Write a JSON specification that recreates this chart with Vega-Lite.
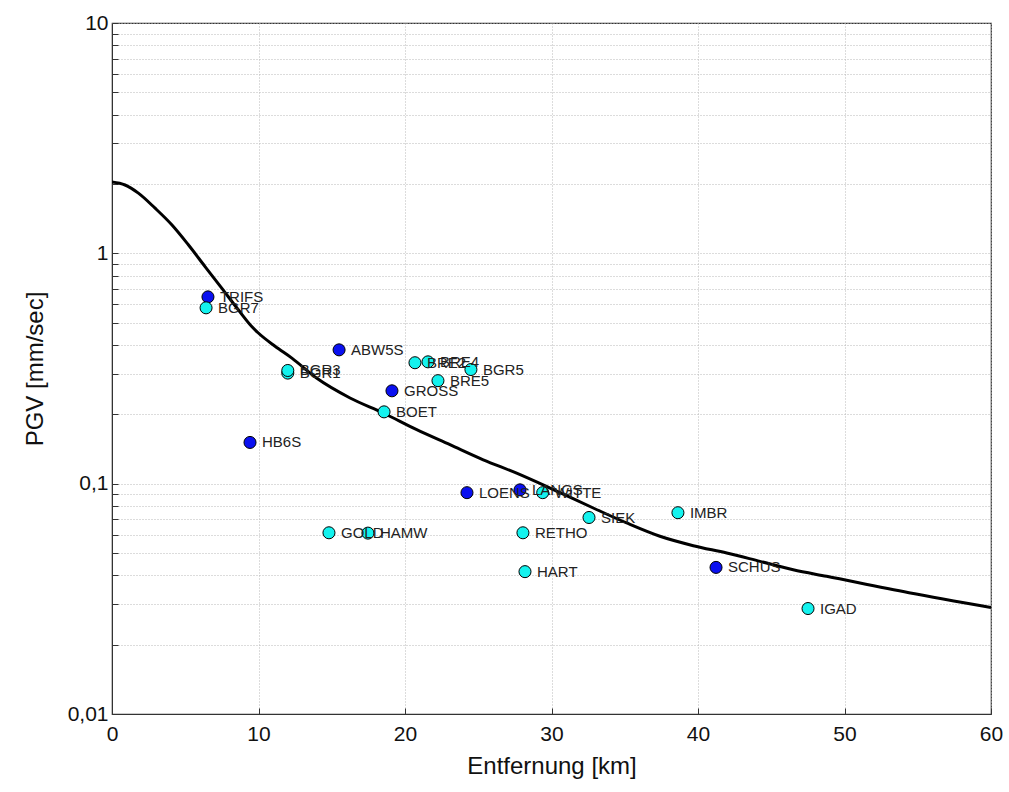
{
  "$schema": "https://vega.github.io/schema/vega-lite/v6.json",
  "width": 879,
  "height": 691,
  "autosize": {"type": "none"},
  "padding": {"left": 112, "top": 23, "right": 18, "bottom": 78},
  "background": "white",
  "config": {
    "font": "Liberation Sans",
    "view": {"stroke": "#333333", "strokeWidth": 1.2},
    "axis": {
      "domainColor": "#333333",
      "tickColor": "#333333",
      "gridColor": "#b8b8b8",
      "gridDash": [1, 2],
      "gridWidth": 1,
      "labelFont": "Liberation Sans",
      "titleFont": "Liberation Sans",
      "labelColor": "#111111",
      "titleColor": "#111111",
      "labelFontSize": 21,
      "titleFontSize": 24,
      "titleFontWeight": "normal"
    }
  },
  "datasets": {
    "stations": [
      {"name": "TRIFS", "dist": 6.55, "pgv": 0.647, "typ": "a"},
      {"name": "BGR7", "dist": 6.42, "pgv": 0.58, "typ": "b"},
      {"name": "BGR1", "dist": 12.0, "pgv": 0.302, "typ": "b"},
      {"name": "BGR3", "dist": 12.0, "pgv": 0.31, "typ": "b"},
      {"name": "ABW5S", "dist": 15.5, "pgv": 0.381, "typ": "a"},
      {"name": "BRE2", "dist": 20.68, "pgv": 0.335, "typ": "b"},
      {"name": "BRE4", "dist": 21.57, "pgv": 0.338, "typ": "b"},
      {"name": "BGR5", "dist": 24.5, "pgv": 0.313, "typ": "b"},
      {"name": "BRE5", "dist": 22.25, "pgv": 0.28, "typ": "b"},
      {"name": "GROSS", "dist": 19.11, "pgv": 0.253, "typ": "a"},
      {"name": "BOET", "dist": 18.57, "pgv": 0.205, "typ": "b"},
      {"name": "HB6S", "dist": 9.42, "pgv": 0.151, "typ": "a"},
      {"name": "LOENS", "dist": 24.23, "pgv": 0.0914, "typ": "a"},
      {"name": "LANGS", "dist": 27.85, "pgv": 0.094, "typ": "a"},
      {"name": "WITTE", "dist": 29.4, "pgv": 0.0914, "typ": "b"},
      {"name": "SIEK", "dist": 32.56, "pgv": 0.0713, "typ": "b"},
      {"name": "IMBR", "dist": 38.63, "pgv": 0.0748, "typ": "b"},
      {"name": "RETHO", "dist": 28.05, "pgv": 0.0612, "typ": "b"},
      {"name": "GOLD", "dist": 14.81, "pgv": 0.0612, "typ": "b"},
      {"name": "HAMW", "dist": 17.47, "pgv": 0.061, "typ": "b"},
      {"name": "HART", "dist": 28.19, "pgv": 0.0415, "typ": "b"},
      {"name": "SCHUS", "dist": 41.23, "pgv": 0.0433, "typ": "a"},
      {"name": "IGAD", "dist": 47.51, "pgv": 0.0287, "typ": "b"}
    ],
    "curve": [
      {"dist": 0, "pgv": 2.04},
      {"dist": 0.89, "pgv": 1.98},
      {"dist": 1.8, "pgv": 1.825},
      {"dist": 2.94, "pgv": 1.57},
      {"dist": 4.08, "pgv": 1.33},
      {"dist": 5.21, "pgv": 1.089},
      {"dist": 6.35, "pgv": 0.876},
      {"dist": 7.49, "pgv": 0.706},
      {"dist": 8.62, "pgv": 0.569},
      {"dist": 9.54, "pgv": 0.481},
      {"dist": 9.97, "pgv": 0.452},
      {"dist": 11.13, "pgv": 0.395},
      {"dist": 12.3, "pgv": 0.35},
      {"dist": 13.96, "pgv": 0.2874},
      {"dist": 16.25, "pgv": 0.2355},
      {"dist": 18.52, "pgv": 0.2027},
      {"dist": 20.8, "pgv": 0.1715},
      {"dist": 23.07, "pgv": 0.1476},
      {"dist": 25.34, "pgv": 0.127},
      {"dist": 27.62, "pgv": 0.111},
      {"dist": 29.9, "pgv": 0.0957},
      {"dist": 32.85, "pgv": 0.0784},
      {"dist": 35.13, "pgv": 0.0675},
      {"dist": 37.4, "pgv": 0.0591},
      {"dist": 39.68, "pgv": 0.0538},
      {"dist": 41.96, "pgv": 0.05},
      {"dist": 44.23, "pgv": 0.046},
      {"dist": 46.5, "pgv": 0.0423},
      {"dist": 48.78, "pgv": 0.0396},
      {"dist": 54.4, "pgv": 0.0336},
      {"dist": 60, "pgv": 0.029}
    ]
  },
  "layer": [
    {
      "data": {"name": "curve"},
      "mark": {"type": "line", "color": "black", "strokeWidth": 3, "interpolate": "monotone", "clip": true},
      "encoding": {
        "x": {
          "field": "dist", "type": "quantitative",
          "scale": {"domain": [0, 60], "nice": false},
          "axis": {
            "title": "Entfernung [km]",
            "values": [0, 10, 20, 30, 40, 50, 60],
            "tickSize": -6,
            "labelPadding": 15,
            "labelFlush": false,
            "titlePadding": 10,
            "grid": true
          }
        },
        "y": {
          "field": "pgv", "type": "quantitative",
          "scale": {"type": "log", "domain": [0.01, 10], "nice": false},
          "axis": {
            "title": "PGV [mm/sec]",
            "values": [0.01, 0.02, 0.03, 0.04, 0.05, 0.06, 0.07, 0.08, 0.09, 0.1, 0.2, 0.3, 0.4, 0.5, 0.6, 0.7, 0.8, 0.9, 1, 2, 3, 4, 5, 6, 7, 8, 9, 10],
            "labelExpr": "datum.value == 10 ? '10' : datum.value == 1 ? '1' : datum.value == 0.1 ? '0,1' : datum.value == 0.01 ? '0,01' : ''",
            "labelFlush": false,
            "tickSize": -6,
            "labelPadding": 10,
            "titlePadding": 20,
            "grid": true
          }
        }
      }
    },
    {
      "data": {"name": "stations"},
      "mark": {"type": "point", "filled": true, "size": 145, "stroke": "black", "strokeWidth": 1, "opacity": 1},
      "encoding": {
        "x": {"field": "dist", "type": "quantitative"},
        "y": {"field": "pgv", "type": "quantitative"},
        "color": {
          "field": "typ", "type": "nominal",
          "scale": {"domain": ["a", "b"], "range": ["#0a10f0", "#14f2ee"]},
          "legend": null
        }
      }
    },
    {
      "data": {"name": "stations"},
      "mark": {"type": "text", "align": "left", "baseline": "middle", "dx": 12, "fontSize": 15, "color": "#222222", "font": "Liberation Sans"},
      "encoding": {
        "x": {"field": "dist", "type": "quantitative"},
        "y": {"field": "pgv", "type": "quantitative"},
        "text": {"field": "name"}
      }
    }
  ]
}
